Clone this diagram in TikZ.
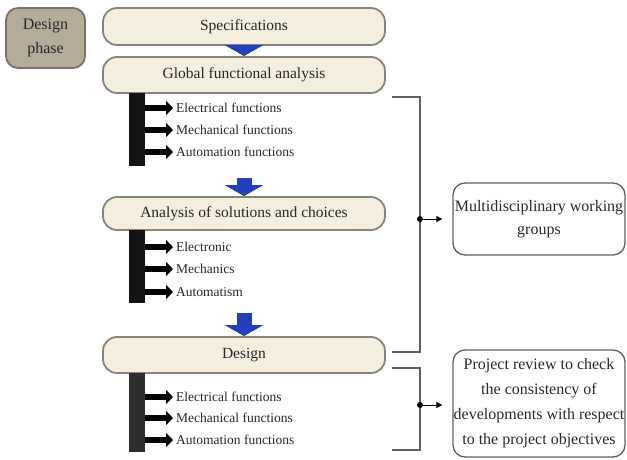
\documentclass[tikz,border=0pt]{standalone}
\usepackage{fontspec}
\setmainfont{Liberation Serif}
\usetikzlibrary{arrows.meta, positioning}
\definecolor{cream}{RGB}{243,238,221}
\definecolor{creamline}{RGB}{135,132,120}
\definecolor{phasefill}{RGB}{180,172,153}
\definecolor{phaseline}{RGB}{120,115,104}
\definecolor{flowblue}{RGB}{34,64,188}
\definecolor{bracegray}{RGB}{95,95,95}
\definecolor{txt}{RGB}{40,40,45}

\begin{document}
\begin{tikzpicture}[x=1pt, y=-1pt,
  stage/.style={draw=creamline, line width=1.8pt, fill=cream, rounded corners=14pt,
    minimum width=282pt, inner sep=0pt, text=txt, font=\fontsize{15.5}{18}\selectfont},
  item/.style={anchor=west, inner sep=0pt, text=txt, font=\fontsize{13.5}{16}\selectfont},
  bar/.style={minimum width=16pt, inner sep=0pt},
  flow/.style={flowblue, line width=15pt, -{Triangle[length=11pt, width=38pt]}},
  hook/.style={line width=6.5pt, shorten >=3pt, -{Triangle[length=7pt, width=14pt]}},
  bracket/.style={bracegray, line width=1.3pt},
  note/.style={draw=bracegray, line width=1.3pt, rounded corners=12pt, minimum width=172pt,
    inner sep=0pt, align=center, text=txt, font=\fontsize{16}{23}\selectfont},
  link/.style={line width=1pt, shorten >=10pt, -{Triangle[length=6pt, width=6pt]}}]
\useasboundingbox (0,0) rectangle (627,459);

% phase label
\node[draw=phaseline, line width=1.8pt, fill=phasefill, rounded corners=12pt, minimum width=79pt,
  minimum height=60pt, align=center, text=txt, font=\fontsize{16}{24}\selectfont]
  (phase) at (45.5,38) {Design\\phase};

% main stages
\node[stage, minimum height=37pt] (spec) at (244,26.5) {Specifications};
\node[stage, minimum height=36pt] (glob) at (244,75) {Global functional analysis};
\node[stage, minimum height=33pt] (anal) at (244,213.5) {Analysis of solutions and choices};
\node[stage, minimum height=36pt] (des) at (244,355) {Design};

% blue flow arrows
\coordinate (f2) at (244,178);
\coordinate (f3) at (244,313);
\draw[flow] (spec.south) -- (glob.north);
\draw[flow] (f2) -- (anal.north);
\draw[flow] (f3) -- (des.north);

% bars and sub items
\node[bar, fill=black!92, minimum height=73pt] (gbar) at (137,129.5) {};
\node[bar, fill=black!92, minimum height=73pt] (sbar) at (137,266.5) {};
\node[bar, fill=black!82, minimum height=79pt] (dbar) at (137,412.5) {};
\foreach \b/\nm/\yy/\lbl in {gbar/ga/108/Electrical functions, gbar/gb/130/Mechanical functions,
    gbar/gc/152/Automation functions, sbar/sa/247/Electronic, sbar/sb/269/Mechanics,
    sbar/sc/292/Automatism, dbar/da/397/Electrical functions, dbar/db/418/Mechanical functions,
    dbar/dc/440/Automation functions} {
  \node[item] (\nm) at (176,\yy) {\lbl};
  \draw[hook] (\b.east |- \nm.west) -- (\nm.west);
}

% right side notes
\node[note, minimum height=72pt] (multi) at (539,219) {Multidisciplinary working\\groups};
\node[note, minimum height=107pt, font=\fontsize{16}{25}\selectfont] (rev) at (539,403.5)
  {Project review to check\\the consistency of\\developments with respect\\to the project objectives};

\draw[bracket] (392,97) -| (420,352) -- (392,352);
\draw[bracket] (392,368) -| (420,450) -- (392,450);
\coordinate (j1) at (420,219);
\coordinate (j2) at (420,405);
\fill (j1) circle (3pt);
\fill (j2) circle (3pt);
\draw[link] (j1) -- (j1 -| multi.west);
\draw[link] (j2) -- (j2 -| rev.west);
\end{tikzpicture}
\end{document}
